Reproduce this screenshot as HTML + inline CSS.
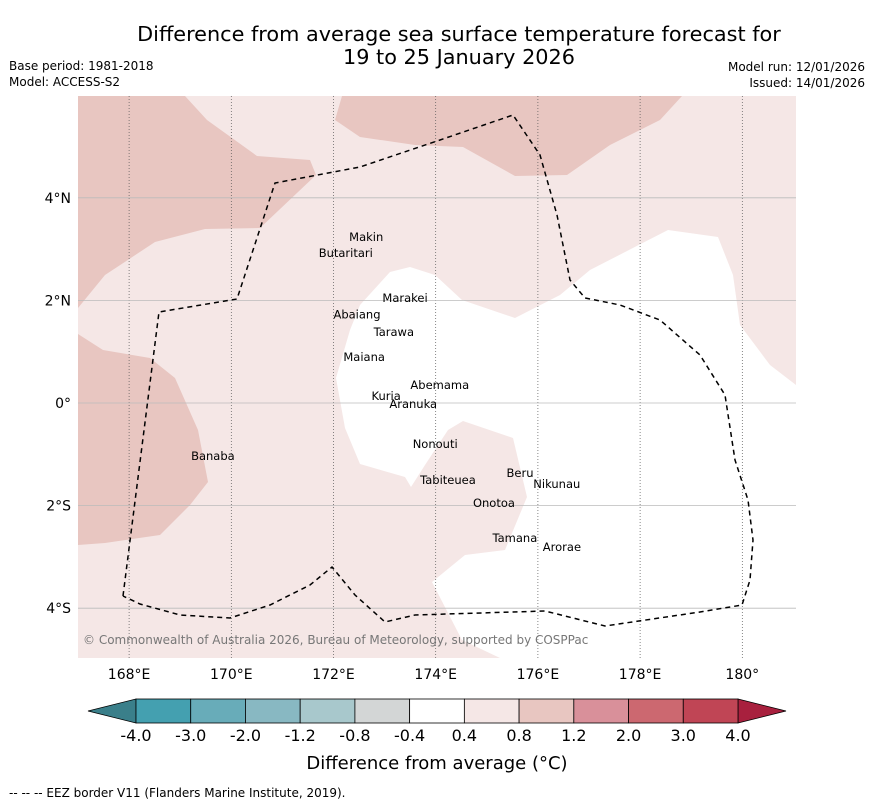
<!DOCTYPE html>
<html><head><meta charset="utf-8"><style>
body{margin:0;background:#fff;font-family:"Liberation Sans","DejaVu Sans",sans-serif;}
svg text{font-family:"DejaVu Sans","Liberation Sans",sans-serif;}
</style></head><body>
<svg width="873" height="804" viewBox="0 0 873 804">
<text x="459" y="41" font-size="20.8" text-anchor="middle">Difference from average sea surface temperature forecast for</text>
<text x="459" y="64" font-size="20.8" text-anchor="middle">19 to 25 January 2026</text>
<text x="9" y="70" font-size="12">Base period: 1981-2018</text>
<text x="9" y="86" font-size="12">Model: ACCESS-S2</text>
<text x="865" y="71" font-size="12" text-anchor="end">Model run: 12/01/2026</text>
<text x="865" y="87" font-size="12" text-anchor="end">Issued: 14/01/2026</text>
<defs><clipPath id="mc"><rect x="78" y="96" width="718" height="562"/></clipPath></defs>
<g id="map" clip-path="url(#mc)">
<rect x="78" y="96" width="718" height="562" fill="#f5e7e6"/>
<polygon fill="#e8c6c1" points="78,96 185,96 207,120 257,156 310,160 316,175 260,228 205,229 155,242 105,275 78,308"/>
<polygon fill="#e8c6c1" points="342,96 682,96 660,120 610,145 567,175 515,176 463,147 415,145 360,137 335,120"/>
<polygon fill="#e8c6c1" points="78,334 103,350 150,358 175,378 198,430 208,482 190,505 160,535 105,543 78,545"/>
<polygon fill="#ffffff" points="380,283 390,272 410,267 435,275 462,300 515,318 560,295 590,270 668,230 718,237 733,275 740,325 770,365 796,385 796,658 500,658 462,640 432,582 465,555 505,550 527,497 513,438 463,421 448,430 425,465 411,487 405,477 360,464 345,428 336,378 350,330 360,305"/>
<g id="grid"></g>
<polyline fill="none" stroke="#000" stroke-width="1.5" stroke-dasharray="5,4" points="123,596 159,312 237,299 275,183 360,167 440,140 513,115 540,155 557,215 570,280 585,298 620,305 660,320 700,355 725,395 735,460 748,500 753,540 750,580 742,605 700,612 605,626 545,611 415,615 385,622 355,595 332,567 310,585 270,605 230,618 180,615 140,604 123,596"/>
<g id="islands" font-size="11.5"></g>
<text x="83" y="644" font-size="12" fill="#777">© Commonwealth of Australia 2026, Bureau of Meteorology, supported by COSPPac</text>
</g>
<g id="axes" font-size="14"></g>
<g id="cbar"></g>
<text x="437" y="769" font-size="18" text-anchor="middle">Difference from average (°C)</text>
<text x="9" y="797" font-size="12">--  --  -- EEZ border V11 (Flanders Marine Institute, 2019).</text>
</svg>
<script>
const lonTicks=[168,170,172,174,176,178,180];
const lonLabels=["168°E","170°E","172°E","174°E","176°E","178°E","180°"];
const latTicks=[4,2,0,-2,-4];
const latLabels=["4°N","2°N","0°","2°S","4°S"];
const islandNames=["Makin","Butaritari","Marakei","Abaiang","Tarawa","Maiana","Abemama","Kuria","Aranuka","Nonouti","Banaba","Tabiteuea","Beru","Nikunau","Onotoa","Tamana","Arorae"];
const islandLon=[172.64,172.24,173.40,172.46,173.18,172.60,174.08,173.03,173.56,173.99,169.64,174.24,175.65,176.37,175.14,175.55,176.47];
const islandLat=[3.24,2.92,2.05,1.73,1.38,0.90,0.35,0.14,-0.02,-0.80,-1.03,-1.50,-1.36,-1.58,-1.95,-2.63,-2.81];
const cbLabels=["-4.0","-3.0","-2.0","-1.2","-0.8","-0.4","0.4","0.8","1.2","2.0","3.0","4.0"];
const cbColors=["#44a0b0","#68acb9","#88b8c2","#a8c8cc","#d3d6d6","#ffffff","#f5e7e6","#e8c6c1","#d9909a","#cc6870","#c04555"];
const NS="http://www.w3.org/2000/svg";
const xS=lon=>78+(lon-167)*51.1;
const yS=lat=>403-lat*51.3;
function mk(t,a,p){const e=document.createElementNS(NS,t);for(const k in a)e.setAttribute(k,a[k]);p.appendChild(e);return e;}
const grid=document.getElementById('grid'),axes=document.getElementById('axes');
lonTicks.forEach((v,i)=>{
 const l=mk('line',{x1:xS(v),x2:xS(v),y1:96,y2:658,stroke:'#555','stroke-width':0.7,'stroke-dasharray':'1,2'},grid);
 
 
 const t=mk('text',{x:xS(v),y:679,'text-anchor':'middle'},axes);t.textContent=lonLabels[i];
 
 
});
latTicks.forEach((v,i)=>{
 const l=mk('line',{x1:78,x2:796,y1:yS(v),y2:yS(v),stroke:'#bbb','stroke-width':0.8},grid);
 
 
 const t=mk('text',{x:71,y:yS(v)+5,'text-anchor':'end'},axes);t.textContent=latLabels[i];
 
 
});
const isl=document.getElementById('islands');
islandNames.forEach((n,i)=>{
 const t=mk('text',{x:xS(islandLon[i]),y:yS(islandLat[i])+4,'text-anchor':'middle'},isl);t.textContent=n;
 
 
});
const cb=document.getElementById('cbar');
const x0=136,x1=738,w=(x1-x0)/cbColors.length,y0=699,h=24;
const la=mk('polygon',{points:`${x0},${y0} ${x0},${y0+h} 88,${y0+h/2}`,fill:'#3a7f8a',stroke:'#000','stroke-width':0.8},cb);


const ra=mk('polygon',{points:`${x1},${y0} ${x1},${y0+h} 786,${y0+h/2}`,fill:'#a8203e',stroke:'#000','stroke-width':0.8},cb);


cbColors.forEach((c,i)=>{
 const r=mk('rect',{x:x0+i*w,y:y0,width:w,height:h,fill:c,stroke:'#000','stroke-width':0.8},cb);
 
 
});
cbLabels.forEach((s,i)=>{
 const t=mk('text',{x:x0+i*w,y:741,'text-anchor':'middle','font-size':16},cb);t.textContent=s;
 
 
});
</script>
</body></html>
